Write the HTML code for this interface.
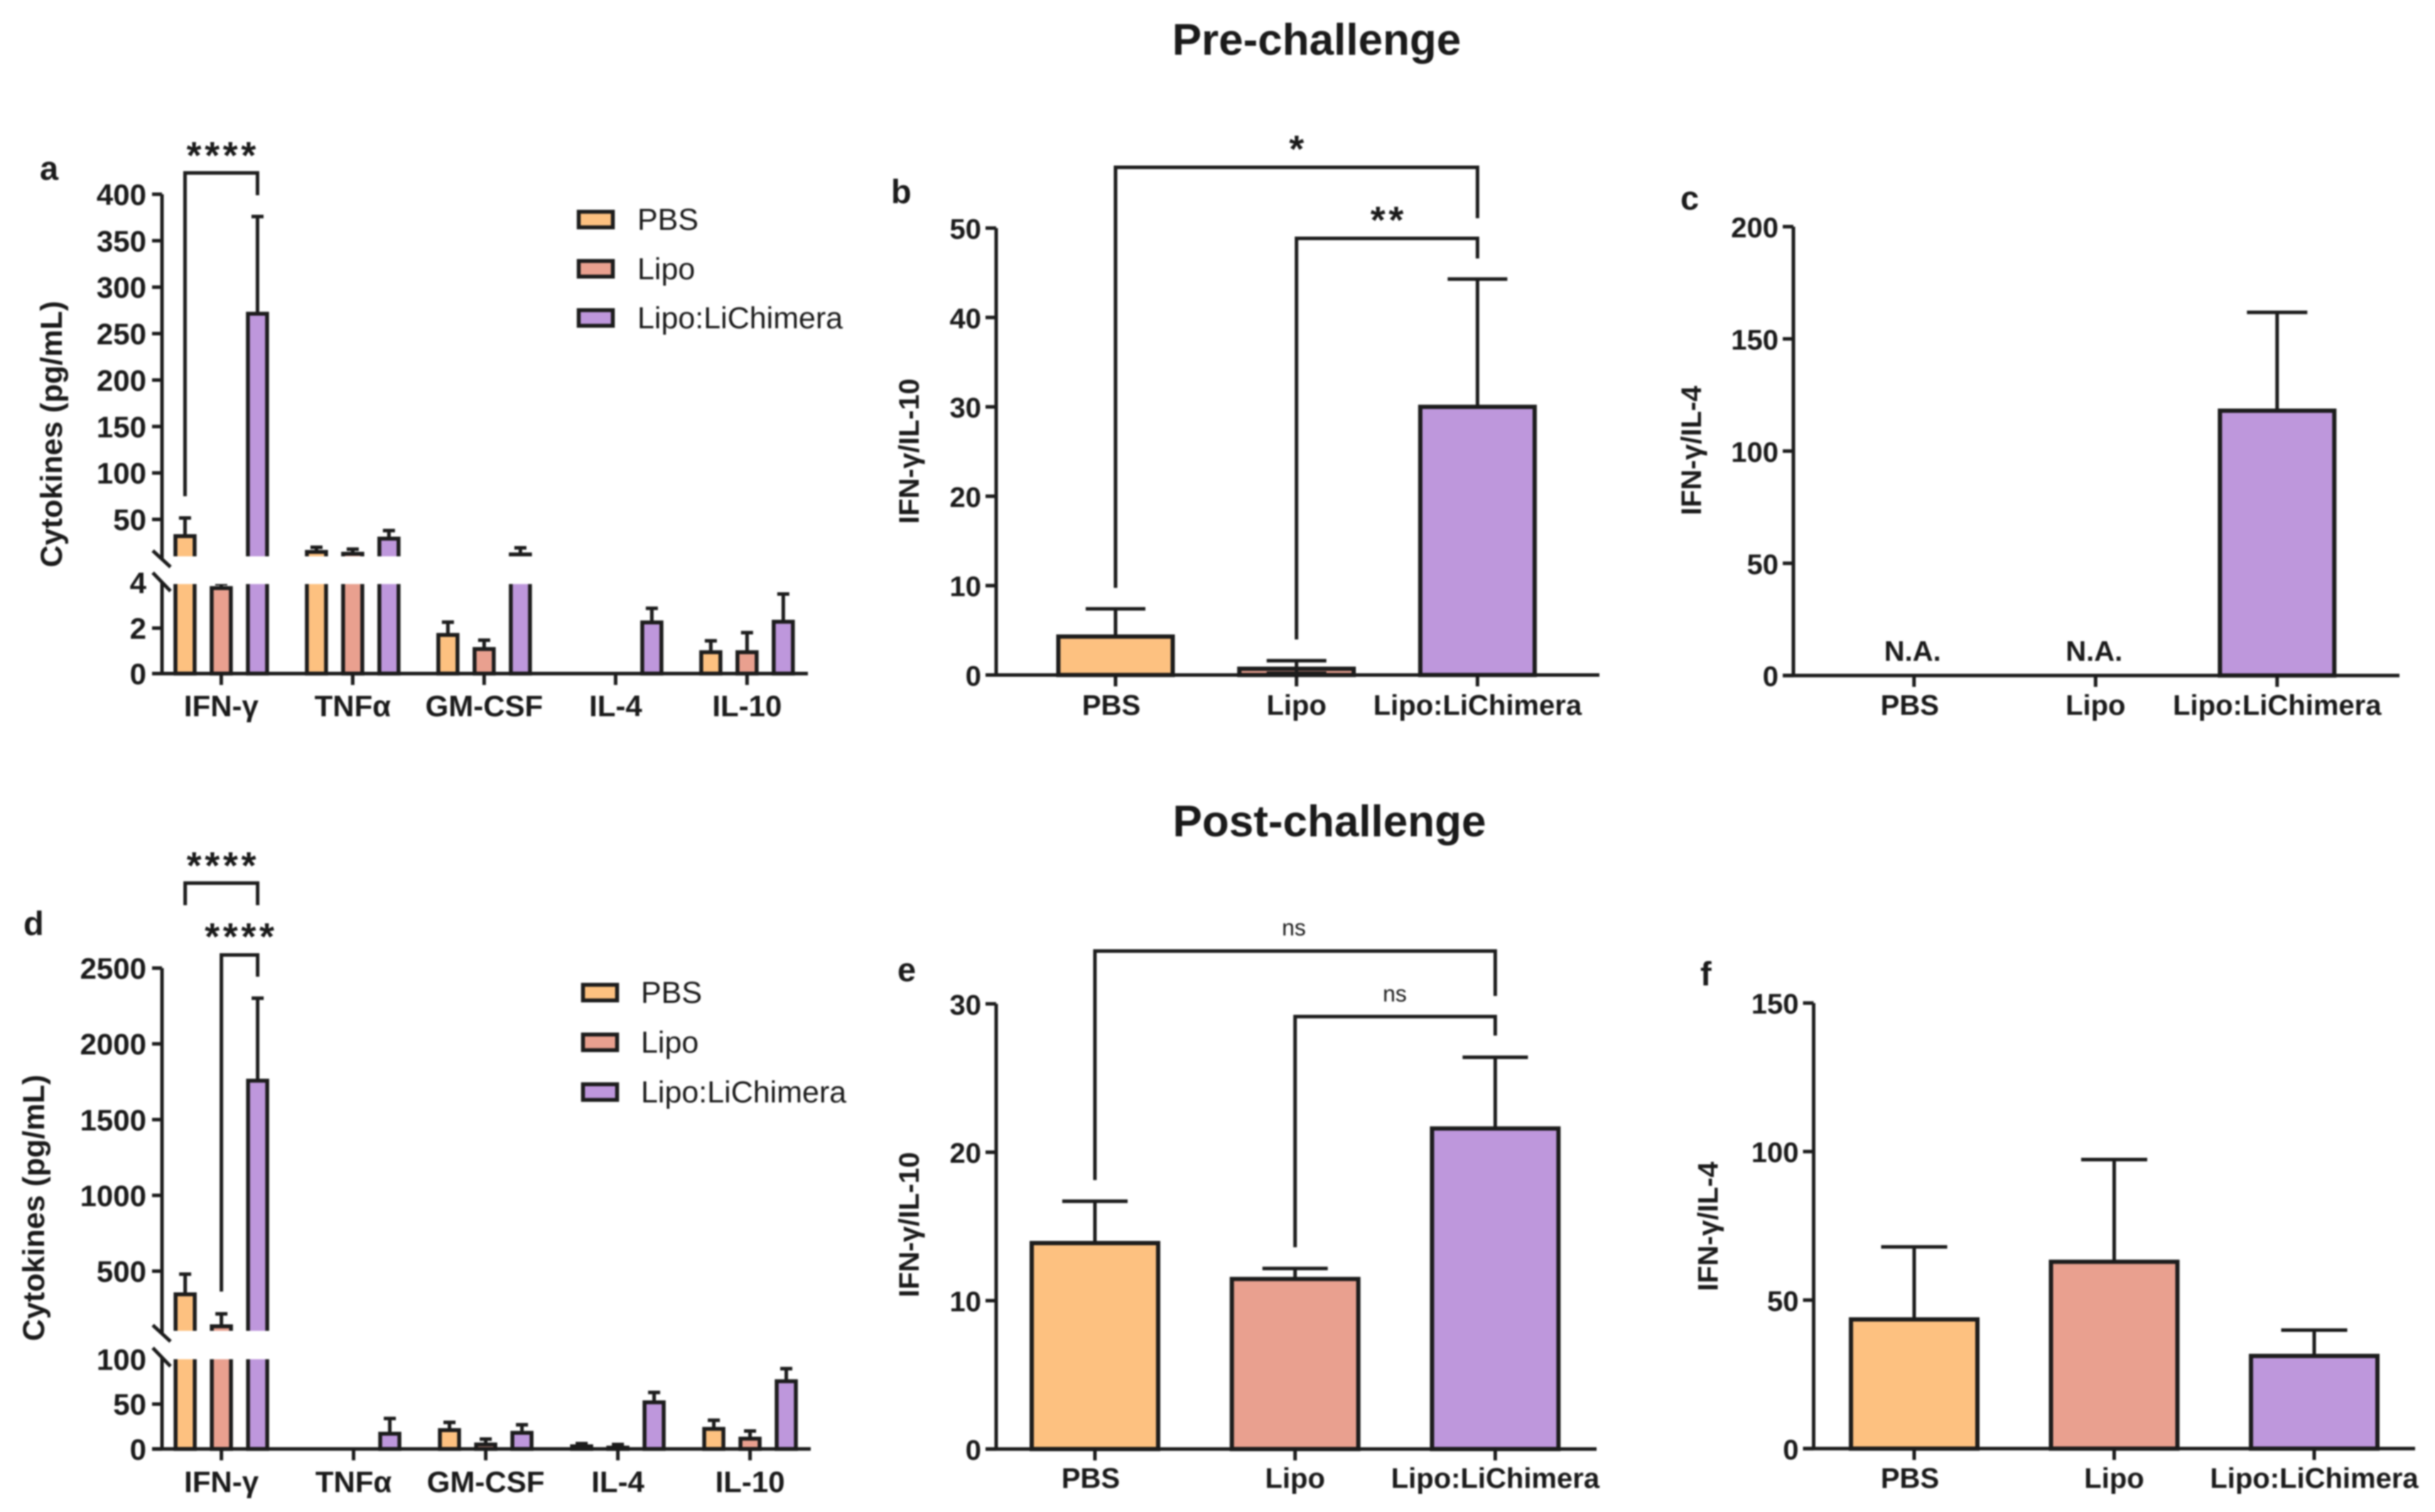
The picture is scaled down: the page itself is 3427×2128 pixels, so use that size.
<!DOCTYPE html>
<html lang="en">
<head>
<meta charset="utf-8">
<title>Cytokine levels pre- and post-challenge</title>
<style>
html,body{margin:0;padding:0;background:#fff;}
svg{display:block;filter:blur(1px);}
text{font-family:"Liberation Sans",sans-serif;fill:#1a1a1a;}
</style>
</head>
<body>
<svg id="figure" xmlns="http://www.w3.org/2000/svg" width="3427" height="2128" viewBox="0 0 3427 2128">
  <rect x="0" y="0" width="3427" height="2128" fill="#ffffff"/>
  <text x="1853" y="77" font-size="62" font-weight="700" text-anchor="middle">Pre-challenge</text>
  <text x="1871" y="1177" font-size="62" font-weight="700" text-anchor="middle">Post-challenge</text>
  <text x="56" y="253" font-size="47" font-weight="700">a</text>
  <text x="1254" y="286" font-size="47" font-weight="700">b</text>
  <text x="2365" y="295" font-size="47" font-weight="700">c</text>
  <text x="33" y="1316" font-size="47" font-weight="700">d</text>
  <text x="1263" y="1381" font-size="47" font-weight="700">e</text>
  <text x="2393" y="1387" font-size="47" font-weight="700">f</text>
</svg>
<script>
/* ---------- shared data ---------- */
const seriesNames = ['PBS', 'Lipo', 'Lipo:LiChimera'];
const cytokines = ['IFN-γ', 'TNFα', 'GM-CSF', 'IL-4', 'IL-10'];

/* panel a: per series, per cytokine */
const aPBS = [32, 15, 1.7, 0, 0.94];
const aPBSErr = [51.5, 20, 2.26, 0, 1.44];
const aLipo = [3.76, 13, 1.08, 0, 0.94];
const aLipoErr = [3.95, 18, 1.47, 0, 1.8];
const aChimera = [271.4, 29.3, 12.3, 2.25, 2.28];
const aChimeraErr = [376, 38, 19.4, 2.87, 3.5];
const aLowerTicks = [0, 2, 4];
const aUpperTicks = [50, 100, 150, 200, 250, 300, 350, 400];

/* panel d */
const dPBS = [347, 0, 21, 3, 22.4];
const dPBSErr = [480, 0, 29.6, 6, 32];
const dLipo = [136, 0, 5, 1.5, 11.5];
const dLipoErr = [218, 0, 11, 5, 20];
const dChimera = [1757, 17, 18, 52, 75.5];
const dChimeraErr = [2301, 34, 27, 63, 89.5];
const dLowerTicks = [0, 50, 100];
const dUpperTicks = [500, 1000, 1500, 2000, 2500];

/* panel b */
const bValues = [4.3, 0.7, 30];
const bErrors = [7.4, 1.6, 44.3];
const bLowErrors = [null, 0.2, null];
const bTicks = [0, 10, 20, 30, 40, 50];

/* panel c */
const cValues = [null, null, 118];
const cErrors = [null, null, 161.8];
const cNotes = ['N.A.', 'N.A.', null];
const cTicks = [0, 50, 100, 150, 200];

/* panel e */
const eValues = [13.88, 11.46, 21.6];
const eErrors = [16.7, 12.17, 26.4];
const eTicks = [0, 10, 20, 30];

/* panel f */
const fValues = [43.5, 62.9, 31.2];
const fErrors = [67.9, 97.3, 39.9];
const fTicks = [0, 50, 100, 150];

/* ---------- drawing helpers ---------- */
const INK = '#1c1c1c';
const FILLS = ['#FDC180', '#E9A08F', '#BE97DC'];
const AXIS_W = 5;
const root = document.getElementById('figure');

function mk(tag, attrs, parent) {
  const el = document.createElementNS('http://www.w3.org/2000/svg', tag);
  for (const k in attrs) el.setAttribute(k, attrs[k]);
  (parent || root).appendChild(el);
  return el;
}
function line(parent, x1, y1, x2, y2, w) {
  return mk('line', {x1: x1, y1: y1, x2: x2, y2: y2, stroke: INK, 'stroke-width': w}, parent);
}
function txt(parent, s, x, y, size, weight, anchor) {
  const t = mk('text', {x: x, y: y, 'font-size': size, 'font-weight': weight, 'text-anchor': anchor}, parent);
  t.textContent = s;
  return t;
}
function slug(s) {
  return String(s).toLowerCase().replace(/[^a-z0-9]+/g, '-');
}
function linearScale(v0, y0, v1, y1) {
  return function (v) { return y0 + (v - v0) * (y1 - y0) / (v1 - v0); };
}
function brokenScale(lower, upper, lowMax, upMin) {
  return function (v) {
    if (v <= lowMax) return lower(v);
    if (v >= upMin) return upper(v);
    return lower(lowMax);
  };
}
function drawBar(g, key, cx, v, err, lowErr, y, base, barW, capW, sw) {
  if (v === null || v === 0) return;
  const bar = mk('rect', {x: cx - barW / 2, y: y(v), width: barW, height: base - y(v), fill: FILLS[key], stroke: INK, 'stroke-width': sw}, g);
  
  
  const bottom = (lowErr === null || lowErr === undefined) ? y(v) : y(lowErr);
  const stem = line(g, cx, bottom, cx, y(err), AXIS_W);
  
  
  const cap = line(g, cx - capW / 2, y(err), cx + capW / 2, y(err), AXIS_W);
  
  
  if (lowErr !== null && lowErr !== undefined) {
    const low = line(g, cx - capW / 2, y(lowErr), cx + capW / 2, y(lowErr), AXIS_W);
    
    
  }
}
function drawBracket(g, xl, xr, yTop, yLeft, yRight, label, lx, ly, size, weight, spacing) {
  const p = mk('path', {d: 'M' + xl + ' ' + yLeft + 'V' + yTop + 'H' + xr + 'V' + yRight, fill: 'none', stroke: INK, 'stroke-width': AXIS_W}, g);
  
  
  const t = txt(g, label, lx + spacing / 2, ly, size, weight, 'middle');
  t.setAttribute('letter-spacing', spacing);
  
  
}
function drawXLabels(g, labels, xs, y, size) {
  labels.forEach(function (s, i) {
    const t = txt(g, s, xs(i), y, size, 700, 'middle');
    
    
  });
}
function drawYTicks(g, ticks, y, axisX, tickLen, labelX, size, noMark) {
  ticks.forEach(function (v) {
    if (v !== noMark) {
      const m = line(g, axisX - tickLen, y(v), axisX, y(v), AXIS_W);
      
      
    }
    const t = txt(g, v, labelX, y(v) + 15, size, 700, 'end');
    
    
  });
}
function drawYTitle(g, s, x, y, size) {
  const t = txt(g, s, x, y, size, 700, 'middle');
  t.setAttribute('transform', 'rotate(-90 ' + x + ' ' + y + ')');
  
  
}
function drawLegend(g, x, textX, ys) {
  seriesNames.forEach(function (s, i) {
    const r = mk('rect', {x: x, y: ys[i] - 11, width: 48, height: 22, fill: FILLS[i], stroke: INK, 'stroke-width': 5.5}, g);
    
    
    const t = txt(g, s, textX, ys[i] + 14.5, 43, 400, 'start');
    
    
  });
}

/* ---------- grouped panels with a broken axis ---------- */
function drawGrouped(name, cfg) {
  const g = mk('g', {});
  
  
  const y = cfg.y, base = cfg.base;
  const gx = function (i) { return cfg.firstX + i * cfg.step; };
  cfg.series.forEach(function (vals, s) {
    vals.forEach(function (v, i) {
      drawBar(g, s, gx(i) + (s - 1) * 51, v, cfg.errors[s][i], null, y, base, 27, 17, 5.5);
    });
  });
  const band = mk('rect', {x: 241, y: cfg.gapTop, width: cfg.axisEnd - 241, height: cfg.gapBottom - cfg.gapTop, fill: '#ffffff'}, g);
  
  

  const up = line(g, 228, cfg.upperTopY, 228, cfg.gapTop + 4, AXIS_W);
  
  
  const lo = line(g, 228, cfg.gapBottom - 3, 228, base, AXIS_W);
  
  
  const s1 = line(g, 215, cfg.gapTop - 8, 240, cfg.gapTop + 15, AXIS_W);
  
  
  const s2 = line(g, 215, cfg.gapBottom - 16, 240, cfg.gapBottom + 10, AXIS_W);
  
  
  const xa = line(g, 214, base, cfg.axisEnd, base, AXIS_W);
  
  

  cytokines.forEach(function (c, i) {
    const m = line(g, gx(i), base, gx(i), base + 16, AXIS_W);
    
    
  });
  drawXLabels(g, cytokines, gx, cfg.labelY, 42);
  drawYTicks(g, cfg.lowerTicks, y, 228, 14, 206, 42, cfg.lowMax);
  drawYTicks(g, cfg.upperTicks, y, 228, 14, 206, 42, null);
  drawYTitle(g, 'Cytokines (pg/mL)', cfg.titleX, cfg.titleY, 43);
  drawLegend(g, cfg.legendX, cfg.legendTextX, cfg.legendYs);
  cfg.brackets(g, function (s) { return gx(0) + (s - 1) * 51; }, y);
}

/* ---------- three-bar panels ---------- */
function drawSimple(name, cfg) {
  const g = mk('g', {});
  
  
  const y = cfg.y, base = y(0);
  const bx = function (i) { return cfg.firstX + i * cfg.step; };
  cfg.values.forEach(function (v, i) {
    drawBar(g, i, bx(i), v, cfg.errors[i], cfg.low ? cfg.low[i] : null, y, base, cfg.barW, cfg.capW, 6);
  });
  const ya = line(g, cfg.axisX, y(cfg.ticks[cfg.ticks.length - 1]), cfg.axisX, base, AXIS_W);
  
  
  const xa = line(g, cfg.axisX - 15, base, cfg.axisEnd, base, AXIS_W);
  
  
  seriesNames.forEach(function (s, i) {
    const m = line(g, bx(i), base, bx(i), base + 16, AXIS_W);
    
    
  });
  const lx = function (i) { return bx(i) + (i === 0 ? -6 : 0); };
  drawXLabels(g, seriesNames, lx, cfg.labelY, 40);
  drawYTicks(g, cfg.ticks, y, cfg.axisX, 15, cfg.axisX - 21, 40, null);
  drawYTitle(g, cfg.title, cfg.titleX, cfg.titleY, 40);
  if (cfg.notes) {
    cfg.notes.forEach(function (n, i) {
      if (!n) return;
      const t = txt(g, n, bx(i) - 2, cfg.noteY, 40, 700, 'middle');
      
      
    });
  }
  if (cfg.brackets) cfg.brackets(g, bx, y);
}

/* panel a */
const aLower = linearScale(0, 948, 4, 820);
const aUpper = linearScale(50, 731, 400, 273.4);
drawGrouped('panel-a-chart', {
  y: brokenScale(aLower, aUpper, 4, 10),
  base: 948, firstX: 311.4, step: 185, axisEnd: 1137,
  series: [aPBS, aLipo, aChimera], errors: [aPBSErr, aLipoErr, aChimeraErr],
  gapTop: 783, gapBottom: 822, upperTopY: 273.4, lowMax: 4,
  lowerTicks: aLowerTicks, upperTicks: aUpperTicks, labelY: 1008,
  titleX: 87, titleY: 611,
  legendX: 814.5, legendTextX: 897, legendYs: [309, 378.3, 447.5],
  brackets: function (g, sx, y) {
    drawBracket(g, sx(0), sx(2), y(423), y(75), y(399), '****', sx(1), 237, 54, 700, 4.6);
  }
});

/* panel d */
const dLower = linearScale(0, 2039.3, 100, 1913);
const dUpper = linearScale(500, 1789, 2500, 1362.5);
drawGrouped('panel-d-chart', {
  y: brokenScale(dLower, dUpper, 100, 106),
  base: 2039.3, firstX: 311.6, step: 186, axisEnd: 1141,
  series: [dPBS, dLipo, dChimera], errors: [dPBSErr, dLipoErr, dChimeraErr],
  gapTop: 1873, gapBottom: 1913, upperTopY: 1362.5, lowMax: 100,
  lowerTicks: dLowerTicks, upperTicks: dUpperTicks, labelY: 2100,
  titleX: 62, titleY: 1700,
  legendX: 820.5, legendTextX: 902, legendYs: [1397, 1467, 1537],
  brackets: function (g, sx, y) {
    drawBracket(g, sx(0), sx(2), y(3061), y(2915), y(2915), '****', sx(1), 1236.5, 54, 700, 4.6);
    drawBracket(g, sx(1), sx(2), y(2587), y(365), y(2443), '****', (sx(1) + sx(2)) / 2, 1336.5, 54, 700, 4.6);
  }
});

/* panel b */
drawSimple('panel-b-chart', {
  y: linearScale(0, 950, 50, 321), values: bValues, errors: bErrors, low: bLowErrors, ticks: bTicks,
  firstX: 1570, step: 254.7, barW: 161, capW: 84, axisX: 1402, axisEnd: 2251, labelY: 1006,
  title: 'IFN-γ/IL-10', titleX: 1293, titleY: 635,
  brackets: function (g, bx, y) {
    drawBracket(g, bx(0), bx(2), y(56.8), y(9.75), y(51.1), '*', (bx(0) + bx(2)) / 2, 228, 54, 700, 0);
    drawBracket(g, bx(1), bx(2), y(48.85), y(3.97), y(46.6), '**', (bx(1) + bx(2)) / 2, 328, 54, 700, 4.6);
  }
});

/* panel c */
drawSimple('panel-c-chart', {
  y: linearScale(0, 950.7, 200, 319), values: cValues, errors: cErrors, ticks: cTicks,
  firstX: 2693.8, step: 255.5, barW: 161, capW: 85, axisX: 2524, axisEnd: 3377, labelY: 1006,
  title: 'IFN-γ/IL-4', titleX: 2394, titleY: 634,
  notes: cNotes, noteY: 930
});

/* panel e */
drawSimple('panel-e-chart', {
  y: linearScale(0, 2039.4, 30, 1412.8), values: eValues, errors: eErrors, ticks: eTicks,
  firstX: 1541, step: 281.7, barW: 178, capW: 92, axisX: 1402, axisEnd: 2247, labelY: 2094,
  title: 'IFN-γ/IL-10', titleX: 1293, titleY: 1723.6,
  brackets: function (g, bx, y) {
    drawBracket(g, bx(0), bx(2), y(33.56), y(18.12), y(30.53), 'ns', 1821, 1316.5, 32, 400, 0);
    drawBracket(g, bx(1), bx(2), y(29.14), y(13.6), y(27.86), 'ns', 1963, 1409.5, 32, 400, 0);
  }
});

/* panel f */
drawSimple('panel-f-chart', {
  y: linearScale(0, 2038.8, 150, 1411.7), values: fValues, errors: fErrors, ticks: fTicks,
  firstX: 2694, step: 281.5, barW: 178, capW: 93, axisX: 2552.5, axisEnd: 3399, labelY: 2094,
  title: 'IFN-γ/IL-4', titleX: 2417.5, titleY: 1726
});
</script>
</body>
</html>
